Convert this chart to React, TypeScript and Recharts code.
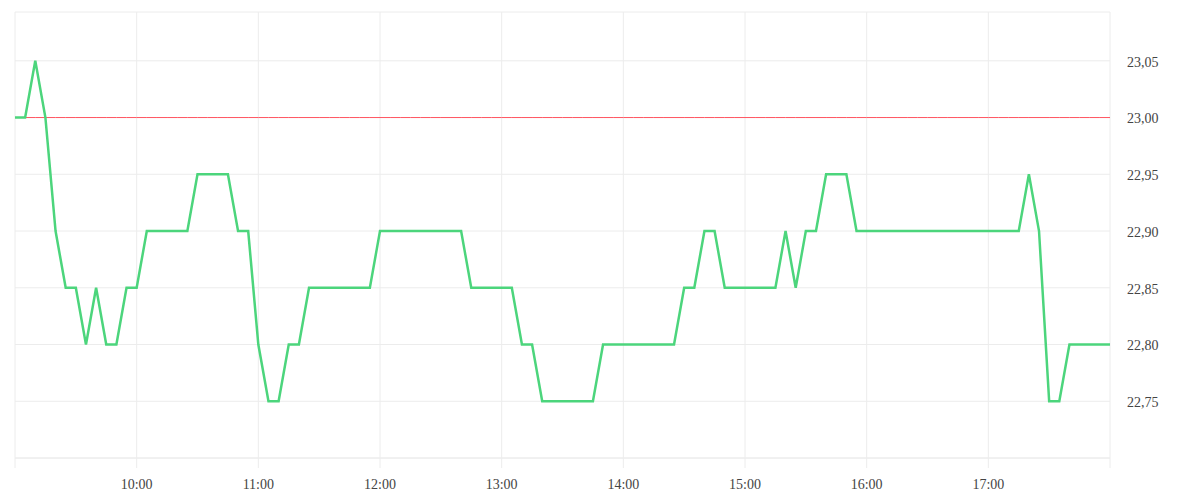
import React from 'react';
import {
  LineChart,
  Line,
  XAxis,
  YAxis,
  CartesianGrid,
} from 'recharts';

// session runs 09:00 - 18:00, one quote every 5 minutes
const sessionStart = 9 * 60;
const stepMinutes = 5;

const prices = [
  23.0, 23.0, 23.05, 23.0, 22.9, 22.85, 22.85, 22.8, 22.85, 22.8, 22.8, 22.85,
  22.85, 22.9, 22.9, 22.9, 22.9, 22.9, 22.95, 22.95, 22.95, 22.95, 22.9, 22.9,
  22.8, 22.75, 22.75, 22.8, 22.8, 22.85, 22.85, 22.85, 22.85, 22.85, 22.85, 22.85,
  22.9, 22.9, 22.9, 22.9, 22.9, 22.9, 22.9, 22.9, 22.9, 22.85, 22.85, 22.85,
  22.85, 22.85, 22.8, 22.8, 22.75, 22.75, 22.75, 22.75, 22.75, 22.75, 22.8, 22.8,
  22.8, 22.8, 22.8, 22.8, 22.8, 22.8, 22.85, 22.85, 22.9, 22.9, 22.85, 22.85,
  22.85, 22.85, 22.85, 22.85, 22.9, 22.85, 22.9, 22.9, 22.95, 22.95, 22.95, 22.9,
  22.9, 22.9, 22.9, 22.9, 22.9, 22.9, 22.9, 22.9, 22.9, 22.9, 22.9, 22.9,
  22.9, 22.9, 22.9, 22.9, 22.95, 22.9, 22.75, 22.75, 22.8, 22.8, 22.8, 22.8,
  22.8,
];

const previousClose = 23.0;

const timeTicks = [540, 600, 660, 720, 780, 840, 900, 960, 1020, 1080];
const priceTicks = [22.7, 22.75, 22.8, 22.85, 22.9, 22.95, 23.0, 23.05];

const data = prices.map((price, i) => ({
  minute: sessionStart + i * stepMinutes,
  price,
  close: previousClose,
}));

const formatTime = (m: number) => {
  if (m === 540 || m === 1080) return '';
  const h = Math.floor(m / 60);
  const mm = m % 60;
  return `${h}:${mm.toString().padStart(2, '0')}`;
};

const formatPrice = (v: number) => (v < 22.72 ? '' : v.toFixed(2).replace('.', ','));

const tickStyle = { fill: '#444', fontSize: 14 };

// right axis labels, pushed a little further from the plot
const PriceTick = (props: any) => {
  const { y, payload } = props;
  const label = formatPrice(payload.value);
  if (!label) return null;
  return (
    <text x={1119} y={y} dy="0.42em" textAnchor="start" {...tickStyle}>
      {label}
    </text>
  );
};

export default function App() {
  return (
    <LineChart
      width={1184}
      height={484}
      data={data}
      margin={{ top: 4, right: 0, left: 7, bottom: 4 }}
    >
      <CartesianGrid stroke="#ececec" />
      <XAxis
        dataKey="minute"
        type="number"
        domain={[540, 1080]}
        ticks={timeTicks}
        tickFormatter={formatTime}
        stroke="#ececec"
        tick={tickStyle}
        tickSize={10}
        tickMargin={11}
        height={30}
      />
      <YAxis
        orientation="right"
        domain={[22.7, 23.093]}
        ticks={priceTicks}
        axisLine={false}
        tickLine={false}
        tick={<PriceTick />}
        width={82}
        allowDataOverflow
      />
      <Line
        type="linear"
        dataKey="close"
        stroke="#ff5560"
        strokeWidth={1}
        dot={false}
        activeDot={false}
        isAnimationActive={false}
      />
      <Line
        type="linear"
        dataKey="price"
        stroke="#4cd57c"
        strokeWidth={2.5}
        dot={false}
        isAnimationActive={false}
      />
    </LineChart>
  );
}
